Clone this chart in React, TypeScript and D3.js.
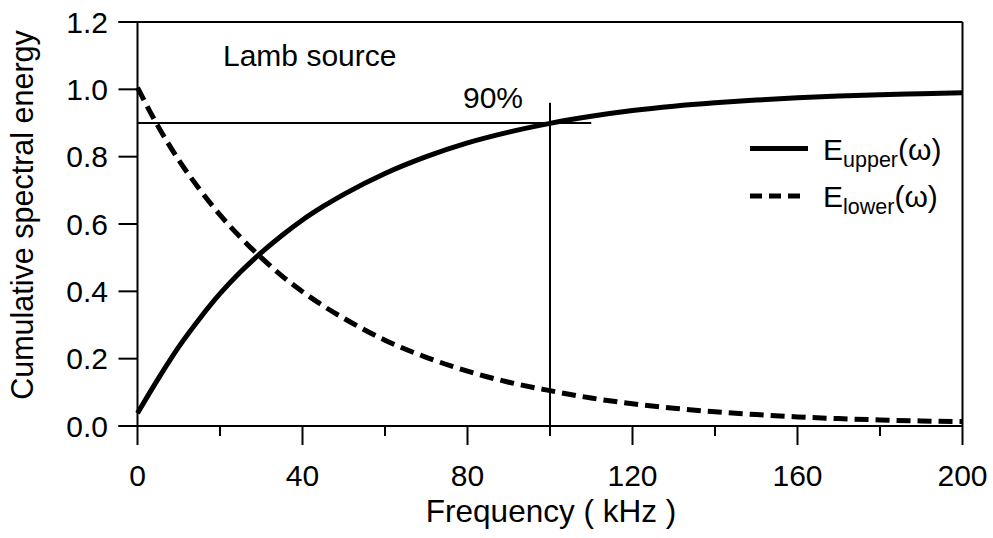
import React from "react";
import * as d3 from "d3";

const freqs = [0, 5, 10, 15, 20, 25, 30, 35, 40, 45, 50, 60, 70, 80, 90, 100, 110, 120, 130, 140, 150, 160, 170, 180, 190, 200];
const upperVals = [0.038, 0.14, 0.235, 0.318, 0.393, 0.458, 0.515, 0.566, 0.612, 0.652, 0.688, 0.75, 0.8, 0.841, 0.873, 0.899, 0.92, 0.937, 0.95, 0.96, 0.968, 0.975, 0.98, 0.984, 0.987, 0.99];
const lowerVals = [1.005, 0.89, 0.79, 0.704, 0.627, 0.56, 0.5, 0.446, 0.399, 0.357, 0.32, 0.255, 0.204, 0.163, 0.13, 0.105, 0.083, 0.066, 0.053, 0.042, 0.034, 0.027, 0.022, 0.018, 0.015, 0.013];
const xMajorTicks = [0, 40, 80, 120, 160, 200];
const xMinorTicks = [20, 60, 100, 140, 180];
const yTicks = [0, 0.2, 0.4, 0.6, 0.8, 1.0, 1.2];
const refLevel = 0.9;
const refFreq = 100;
const refLineEnd = 110;
const refVTop = 0.96;

const FONT = "'Liberation Sans', Arial, Helvetica, sans-serif";

export default function App() {
  const x = d3.scaleLinear().domain([0, 200]).range([137.5, 962.5]);
  const y = d3.scaleLinear().domain([0, 1.2]).range([426, 22]);
  const line = d3
    .line<number>()
    .x((_, i) => x(freqs[i]))
    .y((d) => y(d))
    .curve(d3.curveMonotoneX);

  const x0 = x(0);
  const x1 = x(200);
  const yb = y(0);
  const yt = y(1.2);

  return (
    <svg width={993} height={538} style={{ position: "absolute", left: 0, top: 0, background: "#fff" }} fontFamily={FONT}>
      <rect x={0} y={0} width={993} height={538} fill="#fff" />
      {/* frame */}
      <g stroke="#000" strokeWidth={2} fill="none">
        <line x1={x0} y1={yt} x2={x0} y2={yb} />
        <line x1={x0 - 19} y1={yt} x2={x1} y2={yt} />
        <line x1={x1} y1={yt} x2={x1} y2={yb} />
        <line x1={x0 - 19} y1={yb} x2={x1} y2={yb} />
        {xMajorTicks.map((t) => (
          <line key={"xm" + t} x1={x(t)} x2={x(t)} y1={yb} y2={yb + 19} />
        ))}
        {xMinorTicks.map((t) => (
          <line key={"xn" + t} x1={x(t)} x2={x(t)} y1={yb} y2={yb + 10} />
        ))}
        {yTicks.map((t) => (
          <line key={"y" + t} x1={x0 - 19} x2={x0} y1={y(t)} y2={y(t)} />
        ))}
      </g>
      {/* tick labels */}
      <g fontSize={30} fill="#000">
        {xMajorTicks.map((t) => (
          <text key={"xl" + t} x={x(t)} y={486} textAnchor="middle">
            {t}
          </text>
        ))}
        {yTicks.map((t) => (
          <text key={"yl" + t} x={108} y={y(t) + 10.7} textAnchor="end">
            {t.toFixed(1)}
          </text>
        ))}
      </g>
      {/* axis titles */}
      <text x={551} y={521.5} textAnchor="middle" fontSize={31.5}>
        Frequency ( kHz )
      </text>
      <text transform="translate(33,215) rotate(-90)" textAnchor="middle" fontSize={30.5}>
        Cumulative spectral energy
      </text>
      {/* reference lines */}
      <g stroke="#000" strokeWidth={2}>
        <line x1={x0} x2={x(refLineEnd)} y1={y(refLevel)} y2={y(refLevel)} />
        <line x1={x(refFreq)} x2={x(refFreq)} y1={y(refVTop)} y2={yb} />
      </g>
      <text x={463} y={108} fontSize={30}>90%</text>
      <text x={223} y={66} fontSize={30}>Lamb source</text>
      {/* curves */}
      <path d={line(upperVals) || ""} fill="none" stroke="#000" strokeWidth={5} />
      <path d={line(lowerVals) || ""} fill="none" stroke="#000" strokeWidth={5} strokeDasharray="14,7" />
      {/* legend */}
      <line x1={750} x2={808} y1={148.5} y2={148.5} stroke="#000" strokeWidth={5} />
      <line x1={750} x2={800} y1={196} y2={196} stroke="#000" strokeWidth={5} strokeDasharray="12,7" />
      <text x={823} y={160} fontSize={30}>
        E
        <tspan fontSize={21.5} dy={7}>upper</tspan>
        <tspan dy={-7}>(ω)</tspan>
      </text>
      <text x={823} y={206.5} fontSize={30}>
        E
        <tspan fontSize={21.5} dy={7}>lower</tspan>
        <tspan dy={-7}>(ω)</tspan>
      </text>
    </svg>
  );
}
